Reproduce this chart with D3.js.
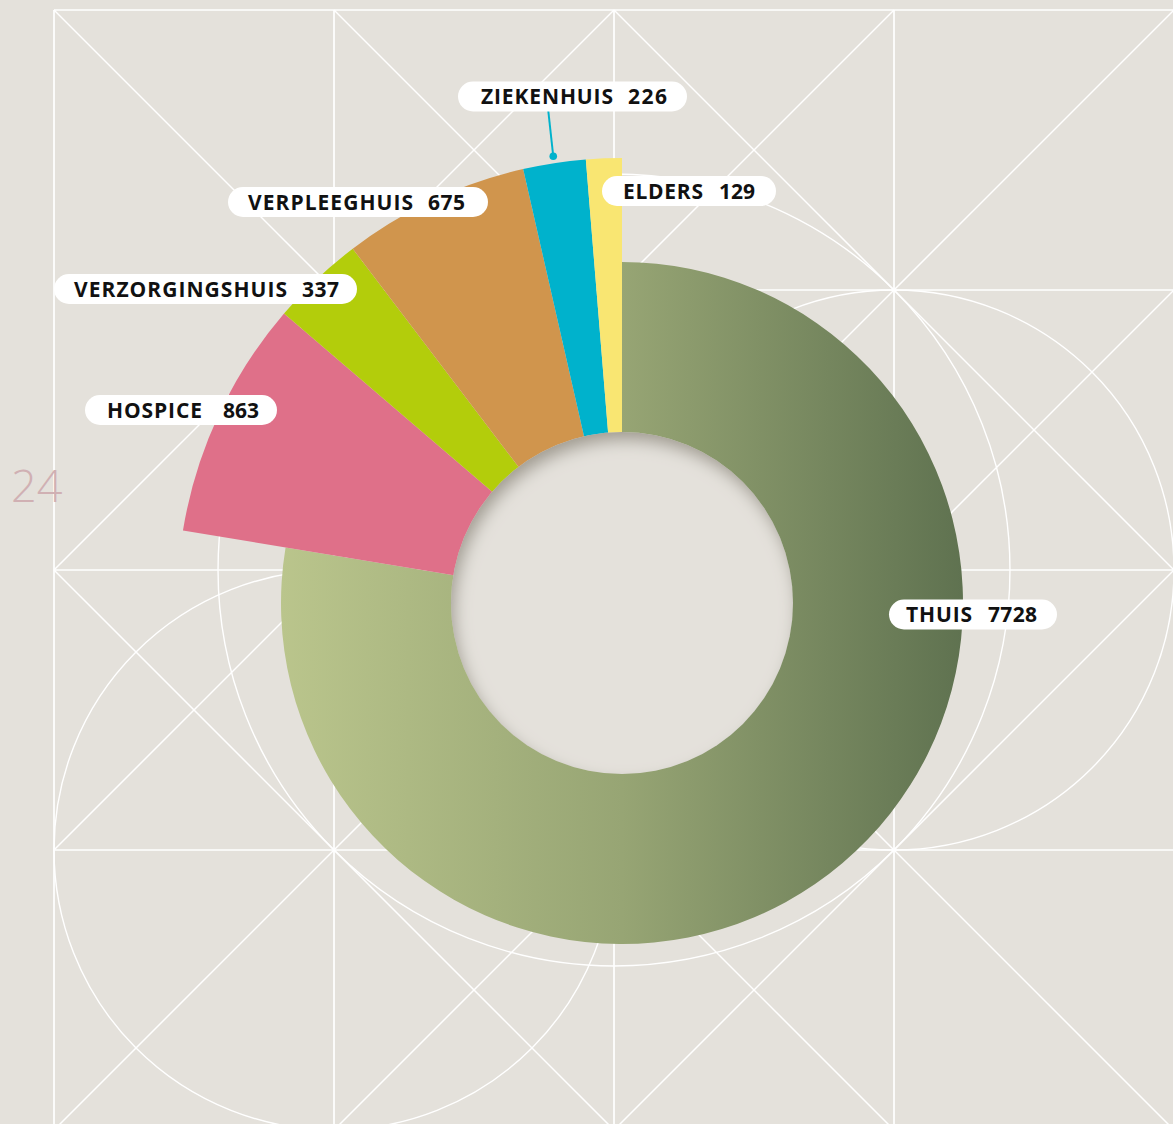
<!DOCTYPE html>
<html>
<head>
<meta charset="utf-8">
<script src="https://cdn.jsdelivr.net/npm/d3@7"></script>
<style>
html,body{margin:0;padding:0;background:#e4e1db;overflow:hidden}
svg{display:block}
</style>
</head>
<body>
<svg id="chart" width="1173" height="1124"></svg>
<script>
// ---------- DATA ----------
const categories = ["THUIS", "HOSPICE", "VERZORGINGSHUIS", "VERPLEEGHUIS", "ZIEKENHUIS", "ELDERS"];
const values = [7728, 863, 337, 675, 226, 129];
const pageNumber = "24";

// ---------- STYLE / LAYOUT ----------
const W = 1173, H = 1124;
const bg = "#e4e1db";
const segColors = {
  HOSPICE: "#df7089",
  VERZORGINGSHUIS: "#b3cd0b",
  VERPLEEGHUIS: "#d0954d",
  ZIEKENHUIS: "#00b2cc",
  ELDERS: "#f9e672"
};
const cx = 622, cy = 603;
const innerR = 171, mainOuterR = 341, otherOuterR = 445;

// label layout: pill [x0,x1,centerY], name [x0,x1], value [x0,x1]
const labelLayout = {
  THUIS:           {pill:[889,1057,614.5], name:[906,972], value:[988,1037]},
  HOSPICE:         {pill:[85,277,410],     name:[107,202], value:[223,259]},
  VERZORGINGSHUIS: {pill:[54,357,289],     name:[74,287],  value:[302,339]},
  VERPLEEGHUIS:    {pill:[228,488,202],    name:[248,413], value:[428,465]},
  ZIEKENHUIS:      {pill:[458,687,96.5],   name:[481,613], value:[628,667]},
  ELDERS:          {pill:[602,776,191],    name:[623,703], value:[719,755]}
};

// background grid
const gridX0 = 54, gridY0 = 10, cell = 280;
const cellDiag = [
  ["\\", "X", "X", "/"],
  ["/",  "X", "X", "X"],
  ["X",  "X", "X", "/"],
  ["/",  "X", "X", "\\"]
];
const bgCircles = [
  {c:[2,2], r: cell*Math.SQRT2},
  {c:[3,2], r: cell},
  {c:[1,3], r: cell}
];

const svg = d3.select("#chart");
const defs = svg.append("defs");

svg.append("rect").attr("width", W).attr("height", H).attr("fill", bg);

// ---------- GRID ----------
const gx = d3.scaleLinear().domain([0, 1]).range([gridX0, gridX0 + cell]);
const gy = d3.scaleLinear().domain([0, 1]).range([gridY0, gridY0 + cell]);
const g = svg.append("g").attr("stroke", "#ffffff").attr("fill", "none");

d3.range(0, 5).forEach(i => {
  g.append("line").attr("x1", gx(i)).attr("x2", gx(i)).attr("y1", gy(0)).attr("y2", H)
    .attr("stroke-width", 1.7);
  g.append("line").attr("x1", gx(0)).attr("x2", W).attr("y1", gy(i)).attr("y2", gy(i))
    .attr("stroke-width", 1.7);
});
cellDiag.forEach((row, r) => row.forEach((d, c) => {
  if (d === "\\" || d === "X")
    g.append("line").attr("x1", gx(c)).attr("y1", gy(r)).attr("x2", gx(c+1)).attr("y2", gy(r+1)).attr("stroke-width", 1.5);
  if (d === "/" || d === "X")
    g.append("line").attr("x1", gx(c+1)).attr("y1", gy(r)).attr("x2", gx(c)).attr("y2", gy(r+1)).attr("stroke-width", 1.5);
}));
bgCircles.forEach(o => {
  g.append("circle").attr("cx", gx(o.c[0])).attr("cy", gy(o.c[1])).attr("r", o.r).attr("stroke-width", 1.4);
});

// ---------- PAGE NUMBER ----------
svg.append("text")
  .attr("x", 11).attr("y", 502)
  .attr("font-family", "'Open Sans', sans-serif")
  .attr("font-weight", 300)
  .attr("font-size", 45)
  .attr("fill", "#d0b0b3")
  .text(pageNumber);

// ---------- DONUT ----------
const grad = defs.append("linearGradient").attr("id", "thuisGrad")
  .attr("gradientUnits", "userSpaceOnUse")
  .attr("x1", -mainOuterR).attr("x2", mainOuterR).attr("y1", 0).attr("y2", 0);
grad.append("stop").attr("offset", "0%").attr("stop-color", "#bac58c");
grad.append("stop").attr("offset", "50%").attr("stop-color", "#97a574");
grad.append("stop").attr("offset", "100%").attr("stop-color", "#5f7250");

const data = categories.map((c, i) => ({cat: c, value: values[i]}));
const pie = d3.pie().sort(null).value(d => d.value).startAngle(0).endAngle(2 * Math.PI);
const arcs = pie(data);
const arcGen = d3.arc()
  .innerRadius(innerR - 2)
  .outerRadius(d => d.index === 0 ? mainOuterR : otherOuterR);

const donut = svg.append("g").attr("transform", `translate(${cx},${cy})`);
donut.selectAll("path.seg").data(arcs).join("path")
  .attr("class", "seg")
  .attr("d", arcGen)
  .attr("fill", d => d.index === 0 ? "url(#thuisGrad)" : segColors[d.data.cat]);

// inner hole with inset shadow
const f = defs.append("filter").attr("id", "inset")
  .attr("x", "-20%").attr("y", "-20%").attr("width", "140%").attr("height", "140%");
f.append("feFlood").attr("flood-color", "#8a8476").attr("flood-opacity", 0.8).attr("result", "flood");
f.append("feComposite").attr("in", "flood").attr("in2", "SourceAlpha").attr("operator", "out").attr("result", "inv");
f.append("feOffset").attr("in", "inv").attr("dx", 4).attr("dy", 9).attr("result", "off");
f.append("feGaussianBlur").attr("in", "off").attr("stdDeviation", 8).attr("result", "blur");
f.append("feComposite").attr("in", "blur").attr("in2", "SourceAlpha").attr("operator", "in").attr("result", "shadow");
const fm = f.append("feMerge");
fm.append("feMergeNode").attr("in", "SourceGraphic");
fm.append("feMergeNode").attr("in", "shadow");

donut.append("circle").attr("r", innerR).attr("fill", bg).attr("filter", "url(#inset)");

// ---------- LEADER (ZIEKENHUIS) ----------
const zi = arcs.find(a => a.data.cat === "ZIEKENHUIS");
const leadColor = segColors.ZIEKENHUIS;
const midA = (zi.startAngle + zi.endAngle) / 2;
const dotR = otherOuterR + 7;
const dotX = cx + dotR * Math.sin(midA), dotY = cy - dotR * Math.cos(midA);
svg.append("line")
  .attr("x1", dotX - 5).attr("y1", labelLayout.ZIEKENHUIS.pill[2] + 14)
  .attr("x2", dotX).attr("y2", dotY)
  .attr("stroke", leadColor).attr("stroke-width", 2);
svg.append("circle").attr("cx", dotX).attr("cy", dotY).attr("r", 3.8).attr("fill", leadColor);

// ---------- LABELS ----------
const labels = svg.append("g")
  .attr("font-family", "'Open Sans', sans-serif")
  .attr("font-weight", 700)
  .attr("font-size", 21)
  .attr("fill", "#111111");

data.forEach((d, i) => {
  const L = labelLayout[d.cat];
  const [x0, x1, ym] = L.pill;
  const h = 30;
  labels.append("rect")
    .attr("x", x0).attr("y", ym - h / 2)
    .attr("width", x1 - x0).attr("height", h)
    .attr("rx", h / 2).attr("ry", h / 2)
    .attr("fill", "#ffffff");
  labels.append("text")
    .attr("x", L.name[0]).attr("y", ym + 7.6)
    .attr("textLength", L.name[1] - L.name[0])
    .attr("lengthAdjust", "spacing")
    .text(d.cat);
  labels.append("text")
    .attr("x", L.value[0]).attr("y", ym + 7.6)
    .attr("textLength", L.value[1] - L.value[0])
    .attr("lengthAdjust", "spacing")
    .text(String(values[i]));
});
</script>
</body>
</html>
